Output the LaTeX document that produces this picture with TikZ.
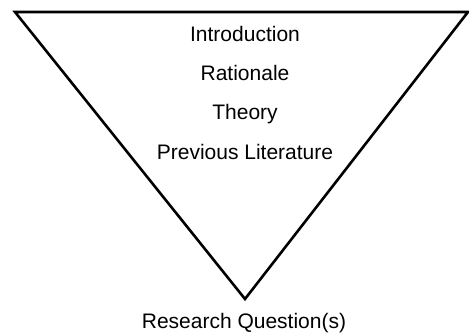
\documentclass[tikz,border=0pt]{standalone}
\usepackage{fontspec}
\setmainfont{Liberation Sans}
\begin{document}
\begin{tikzpicture}[x=1pt,y=-1pt,
  lbl/.style={font=\fontsize{21}{24}\selectfont, inner sep=0pt, anchor=base},
  tri/.style={draw=black, line width=2.6pt, line join=miter}]
\useasboundingbox (0,0) rectangle (469,336);
\coordinate (tl) at (15,12);
\coordinate (tr) at (468,12);
\coordinate (bv) at (245,299);
\draw[tri] (tl) -- (tr) -- (bv) -- cycle;
\node[lbl] (intro) at (245,41.5) {Introduction};
\node[lbl] (rat) at (245,80.5) {Rationale};
\node[lbl] (theo) at (245,119.5) {Theory};
\node[lbl] (prev) at (245,159.5) {Previous Literature};
\node[lbl] (rq) at (244,329) {Research Question(s)};
\end{tikzpicture}
\end{document}
